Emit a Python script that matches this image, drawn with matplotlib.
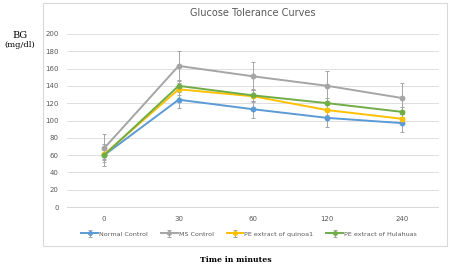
import matplotlib
matplotlib.use("Agg")
import matplotlib.pyplot as plt
import numpy as np
from matplotlib.patches import Rectangle

times = ["0", "30", "60", "120", "240"]
series_names = ["Normal Control", "MS Control", "PE extract of quinoa1", "PE extract of Hulahuas"]
normal = [60, 124, 113, 103, 97]
normal_err = [13, 10, 10, 11, 10]
ms = [68, 163, 151, 140, 126]
ms_err = [16, 17, 16, 17, 17]
quinoa = [61, 136, 128, 112, 102]
quinoa_err = [6, 7, 7, 6, 6]
hulahuas = [60, 140, 129, 120, 110]
hulahuas_err = [6, 7, 7, 6, 6]
yticks = [0, 20, 40, 60, 80, 100, 120, 140, 160, 180, 200]

colors = ["#5B9BD5", "#A5A5A5", "#FFC000", "#70AD47"]

fig = plt.figure(figsize=(4.5, 2.66), dpi=100)
# chart area border
border = Rectangle((43/450, 1-246/266), 404/450, 243/266, transform=fig.transFigure,
                   facecolor="none", edgecolor="#D9D9D9", linewidth=0.8, zorder=-10)
fig.add_artist(border)
ax = fig.add_axes([67/450, 1-208/266, 372/450, 175/266])
ax.set_facecolor("none")

x = np.arange(len(times))
data = [(normal, normal_err), (ms, ms_err), (quinoa, quinoa_err), (hulahuas, hulahuas_err)]
for (vals, err), name, c in zip(data, series_names, colors):
    ax.errorbar(x, vals, yerr=err, color=c, ecolor="#A5A5A5", elinewidth=0.7, capsize=1.5,
                capthick=0.7, marker="o", markersize=3.2, linewidth=1.4, label=name, zorder=3)

ax.set_xlim(-0.5, 4.5)
ax.set_ylim(-1, 201)
ax.set_yticks(yticks)
ax.set_xticks(x)
ax.set_xticklabels(times)
ax.grid(axis="y", color="#D9D9D9", linewidth=0.6)
ax.axhline(0, color="#D9D9D9", linewidth=0.8, zorder=1)
ax.set_axisbelow(True)
for s in ax.spines.values():
    s.set_visible(False)
ax.tick_params(length=0, labelsize=5, labelcolor="#595959", pad=6)

ax.set_title("Glucose Tolerance Curves", fontsize=7, color="#595959", y=1.05)
ax.legend(loc="upper center", bbox_to_anchor=(0.49, -0.1), ncol=4, frameon=False,
          fontsize=4.6, labelcolor="#595959", handlelength=2.6, columnspacing=2.0,
          handletextpad=0.2, markerscale=0.8)

fig.text(20/450, 1-35/266, "BG", fontsize=7, family="DejaVu Serif", ha="center", va="center")
fig.text(20/450, 1-45/266, "(mg/dl)", fontsize=6, family="DejaVu Serif", ha="center", va="center")
fig.text(236/450, 1-260/266, "Time in minutes", fontsize=5.6, family="DejaVu Serif",
         fontweight="bold", ha="center", va="center")

fig.savefig("out.png", dpi=100)
